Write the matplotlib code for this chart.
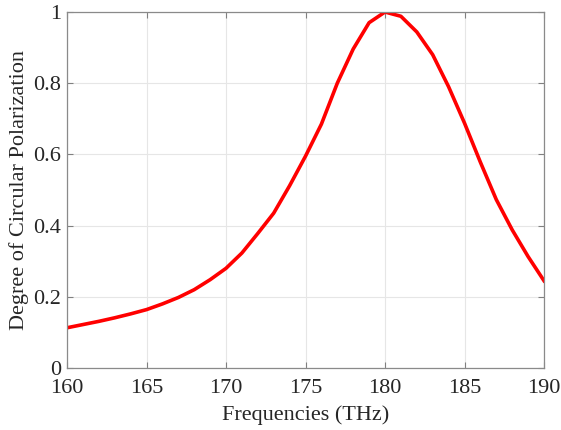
import numpy as np
import matplotlib.pyplot as plt

freq = np.arange(160, 191)
dcp = [0.113, 0.122, 0.131, 0.141, 0.152, 0.164, 0.180, 0.198, 0.220, 0.248,
       0.280, 0.323, 0.378, 0.435, 0.512, 0.595, 0.685, 0.800, 0.896, 0.970,
       1.000, 0.988, 0.944, 0.880, 0.790, 0.688, 0.578, 0.473, 0.388, 0.313,
       0.245]

plt.rcParams['font.family'] = ['Liberation Serif', 'DejaVu Serif']

fig = plt.figure(figsize=(5.61, 4.30), dpi=100)
ax = fig.add_axes([67 / 561, 62 / 430, 477 / 561, 356 / 430])

ax.plot(freq, dcp, color='#ff0000', linewidth=2.6, solid_joinstyle='round')

ax.set_xlim(160, 190)
ax.set_ylim(0, 1)
ax.set_xticks(np.arange(160, 191, 5))
ax.set_yticks([0, 0.2, 0.4, 0.6, 0.8, 1])
ax.set_yticklabels(['0', '0.2', '0.4', '0.6', '0.8', '1'])
ax.grid(True, color='#e6e6e6', linewidth=0.8)
ax.set_axisbelow(True)
ax.tick_params(direction='in', top=True, right=True, labelsize=16,
               colors='#262626', length=4, width=0.8)
ax.tick_params(axis='both', which='both', color='#808080')
ax.tick_params(axis='x', pad=8)
ax.tick_params(axis='y', pad=4)
for s in ax.spines.values():
    s.set_color('#8a8a8a')
    s.set_linewidth(0.9)

ax.set_xlabel('Frequencies (THz)', fontsize=16, color='#262626', labelpad=5)
ax.set_ylabel('Degree of Circular Polarization', fontsize=16, color='#262626', labelpad=3)

fig.savefig('out.png', dpi=100)
